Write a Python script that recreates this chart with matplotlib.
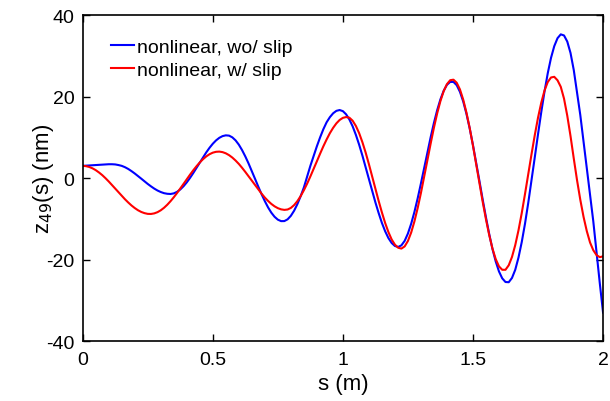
import numpy as np
import matplotlib
matplotlib.use("Agg")
import matplotlib.pyplot as plt

plt.rcParams['font.family'] = ['Liberation Sans', 'DejaVu Sans']
plt.rcParams['axes.unicode_minus'] = False

# position along the undulator (m), sampled every 12.5 mm
s = np.arange(161) * 0.0125

# z_49(s) in nm, nonlinear model without slippage
z_no_slip = [
    3.0, 3.05, 3.1, 3.15, 3.2, 3.25, 3.3, 3.35, 3.4, 3.4,
    3.35, 3.2, 3.0, 2.67, 2.24, 1.71, 1.13, 0.51, -0.14, -0.80,
    -1.44, -2.03, -2.58, -3.05, -3.42, -3.70, -3.85, -3.9, -3.75, -3.38,
    -2.79, -2.0, -1.05, 0.05, 1.25, 2.52, 3.82, 5.1, 6.32, 7.44,
    8.43, 9.25, 9.88, 10.3, 10.49, 10.42, 10.0, 9.26, 8.21, 6.87,
    5.31, 3.58, 1.71, -0.2, -2.12, -3.96, -5.66, -7.2, -8.49, -9.5,
    -10.2, -10.56, -10.55, -10.12, -9.26, -8.01, -6.4, -4.47, -2.31, 0.3,
    3.0, 5.4, 7.8, 10.0, 12.0, 13.7, 14.95, 15.9, 16.5, 16.7,
    16.43, 15.64, 14.38, 12.7, 10.6, 8.2, 5.53, 2.7, -0.22, -3.13,
    -5.96, -8.58, -11.0, -13.05, -14.72, -15.93, -16.66, -16.9, -16.5, -15.4,
    -13.6, -11.2, -8.3, -4.96, -1.31, 2.47, 6.32, 10.06, 13.55, 16.68,
    19.34, 21.43, 22.89, 23.6, 23.6, 22.8, 21.16, 18.8, 15.76, 12.17,
    8.1, 3.73, -0.75, -5.31, -9.65, -13.74, -17.4, -20.47, -22.91, -24.6,
    -25.5, -25.55, -24.5, -22.5, -19.5, -15.7, -11.2, -6.08, -0.6, 5.06,
    10.73, 16.18, 21.23, 25.74, 29.5, 32.38, 34.33, 35.27, 35.0, 33.5,
    30.7, 26.5, 21.0, 15.5, 9.0, 2.5, -3.8, -10.6, -18.3, -25.8,
    -33.0,
]

# z_49(s) in nm, nonlinear model with slippage
z_slip = [
    3.0, 2.93, 2.73, 2.4, 1.95, 1.38, 0.73, -0.02, -0.83, -1.7,
    -2.58, -3.47, -4.35, -5.2, -5.99, -6.72, -7.35, -7.89, -8.31, -8.6,
    -8.78, -8.8, -8.66, -8.36, -7.9, -7.29, -6.54, -5.67, -4.71, -3.67,
    -2.56, -1.43, -0.29, 0.84, 1.92, 2.92, 3.84, 4.64, 5.33, 5.86,
    6.24, 6.45, 6.5, 6.37, 6.08, 5.63, 5.04, 4.31, 3.48, 2.53,
    1.51, 0.44, -0.65, -1.74, -2.81, -3.82, -4.78, -5.61, -6.34, -6.93,
    -7.38, -7.67, -7.8, -7.71, -7.32, -6.63, -5.66, -4.44, -2.99, -1.37,
    0.4, 2.24, 4.12, 6.0, 7.81, 9.48, 11.02, 12.33, 13.43, 14.26,
    14.78, 14.98, 14.82, 14.08, 12.79, 11.03, 8.81, 6.26, 3.42, 0.43,
    -2.6, -5.61, -8.43, -11.02, -13.25, -15.06, -16.33, -17.09, -17.3, -16.76,
    -15.43, -13.36, -10.62, -7.34, -3.65, 0.34, 4.43, 8.51, 12.39, 15.9,
    18.91, 21.34, 23.06, 24.02, 24.15, 23.4, 21.75, 19.26, 16.06, 12.27,
    7.96, 3.42, -1.26, -5.85, -10.13, -13.99, -17.31, -19.89, -21.66, -22.5,
    -22.5, -21.39, -19.35, -16.45, -12.81, -8.59, -3.91, 0.96, 5.83, 10.5,
    14.81, 18.49, 21.48, 23.57, 24.69, 24.85, 24.0, 22.4, 19.5, 15.3,
    10.3, 4.8, -0.5, -5.3, -9.5, -13.0, -15.8, -17.7, -18.9, -19.4,
    -19.2,
]

fig = plt.figure(figsize=(6.1, 4.02), dpi=100)
ax = fig.add_axes([0.1356, 0.149, 0.853, 0.811])

ax.plot(s, z_no_slip, color='#0000ff', lw=1.5, label='nonlinear, wo/ slip')
ax.plot(s, z_slip, color='#ff0000', lw=1.5, label='nonlinear, w/ slip')

ax.set_xlim(0, 2)
ax.set_ylim(-40, 40)
ax.set_xticks([0, 0.5, 1, 1.5, 2])
ax.set_xticklabels(['0', '0.5', '1', '1.5', '2'])
ax.set_yticks([-40, -20, 0, 20, 40])
ax.tick_params(direction='in', length=5, width=1, top=True, right=True,
               labelsize=14)
ax.tick_params(axis='x', pad=7)
ax.tick_params(axis='y', pad=6)
for sp in ax.spines.values():
    sp.set_linewidth(1.2)

ax.set_xlabel('s (m)', fontsize=16, labelpad=4)
ax.set_ylabel('z$_{49}$(s) (nm)', fontsize=16)
ax.yaxis.set_label_coords(-0.052, 0.5)

ax.legend(loc='upper left', frameon=False, fontsize=14, handlelength=1.2,
          handletextpad=0.15, labelspacing=0.3, borderpad=0, borderaxespad=0,
          bbox_to_anchor=(0.054, 0.93))

fig.savefig('out.png', dpi=100)
